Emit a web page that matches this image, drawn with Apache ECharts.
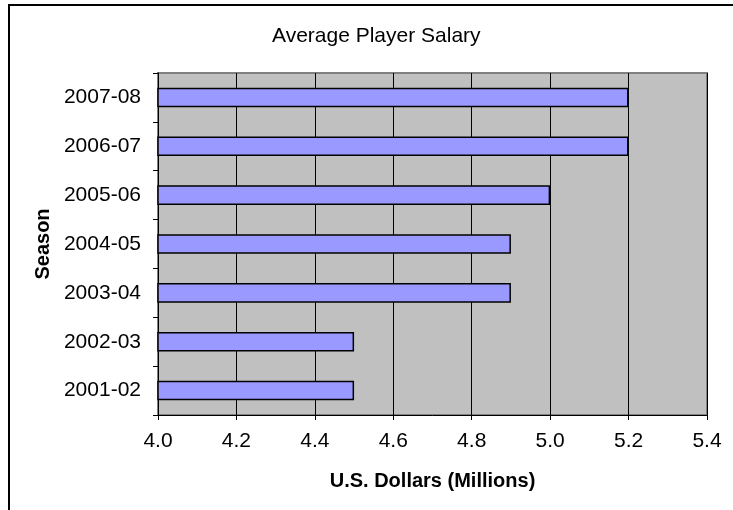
<!DOCTYPE html>
<html>
<head>
<meta charset="utf-8">
<script src="https://cdn.jsdelivr.net/npm/echarts@6/dist/echarts.min.js"></script>
<style>
  html, body { margin: 0; padding: 0; background: #fff; }
  #chart { width: 733px; height: 510px; }
</style>
</head>
<body>
<div id="chart"></div>
<script>
// Seasons, listed bottom to top on the category axis
const seasons = ['2001-02', '2002-03', '2003-04', '2004-05', '2005-06', '2006-07', '2007-08'];
// Average salary per season, millions of US dollars
const salaries = [4.5, 4.5, 4.9, 4.9, 5.0, 5.2, 5.2];
// Value axis range and step
const xMin = 4.0;
const xMax = 5.4;
const xStep = 0.2;

const FONT = "'Liberation Sans', Arial, sans-serif";

const chart = echarts.init(document.getElementById('chart'), null, { renderer: 'canvas' });

chart.setOption({
  animation: false,
  backgroundColor: '#ffffff',
  title: {
    text: 'Average Player Salary',
    left: 267,
    top: 21,
    textStyle: { fontFamily: FONT, fontSize: 21, fontWeight: 'normal', color: '#000' }
  },
  graphic: [{
    type: 'rect',
    shape: { x: 9, y: 5, width: 800, height: 600 },
    style: { fill: 'none', stroke: '#000', lineWidth: 2 },
    silent: true
  }],
  grid: {
    left: 158, right: 26, top: 73, bottom: 95,
    show: true,
    backgroundColor: '#c0c0c0',
    borderColor: '#808080',
    borderWidth: 2
  },
  xAxis: {
    type: 'value',
    min: xMin, max: xMax, interval: xStep,
    name: 'U.S. Dollars (Millions)',
    nameLocation: 'middle',
    nameGap: 56,
    nameTextStyle: { fontFamily: FONT, fontSize: 20, fontWeight: 'bold', color: '#000' },
    axisLine: { show: true, lineStyle: { color: '#000', width: 1 } },
    axisTick: { show: true, length: 5, lineStyle: { color: '#000' } },
    axisLabel: {
      fontFamily: FONT, fontSize: 21, color: '#000', margin: 16,
      formatter: v => v.toFixed(1)
    },
    splitLine: { show: true, lineStyle: { color: '#000', width: 1 } }
  },
  yAxis: {
    type: 'category',
    data: seasons,
    name: 'Season',
    nameLocation: 'middle',
    nameGap: 104,
    nameTextStyle: { fontFamily: FONT, fontSize: 20, fontWeight: 'bold', color: '#000' },
    axisLine: { show: true, lineStyle: { color: '#000', width: 1 } },
    axisTick: { show: true, length: 5, lineStyle: { color: '#000' } },
    axisLabel: { fontFamily: FONT, fontSize: 21, color: '#000', margin: 17 },
    splitLine: { show: false }
  },
  series: [{
    type: 'bar',
    data: salaries,
    barWidth: '40%',
    itemStyle: { color: '#9999ff', borderColor: '#000', borderWidth: 1.5 }
  }]
});
</script>
</body>
</html>
